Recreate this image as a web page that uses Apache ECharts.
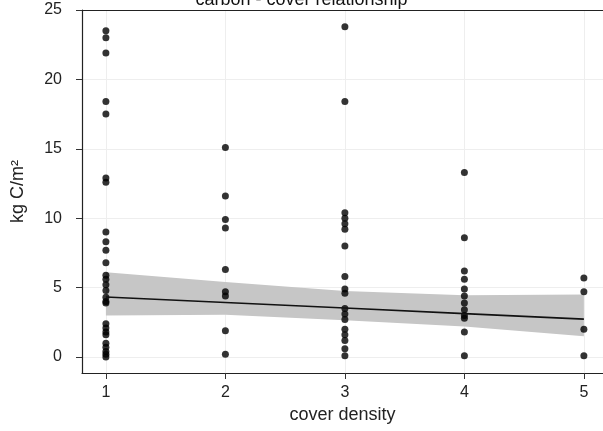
<!DOCTYPE html>
<html>
<head>
<meta charset="utf-8">
<script src="https://cdn.jsdelivr.net/npm/echarts@6/dist/echarts.min.js"></script>
<style>html,body{margin:0;padding:0;background:#fff}#c{width:603px;height:431px}</style>
</head>
<body>
<div id="c"></div>
<script>
var titleText = "carbon - cover relationship";
var xName = "cover density";
var yName = "kg C/m\u00B2";
var xTicks = [1, 2, 3, 4, 5];
var yTicks = [0, 5, 10, 15, 20, 25];

var cover1 = [23.5, 23.0, 21.9, 18.4, 17.5, 12.9, 12.6, 9.0, 8.3, 7.7, 6.8, 5.9, 5.6, 5.2, 4.8, 4.3, 4.0, 3.9, 2.4, 2.1, 1.8, 1.6, 1.0, 0.7, 0.4, 0.2, 0.0];
var cover2 = [15.1, 11.6, 9.9, 9.3, 6.3, 4.7, 4.4, 1.9, 0.2];
var cover3 = [23.8, 18.4, 10.4, 10.0, 9.6, 9.2, 8.0, 5.8, 4.9, 4.6, 3.5, 3.1, 2.7, 2.0, 1.6, 1.2, 0.6, 0.1];
var cover4 = [13.3, 8.6, 6.2, 5.6, 4.9, 4.4, 3.9, 3.4, 3.0, 2.8, 1.8, 0.1];
var cover5 = [5.7, 4.7, 2.0, 0.1];

var fitX = [1, 2, 3, 4, 5];
var fitY = [4.33, 3.93, 3.53, 3.13, 2.73];
var ciLow = [3.0, 3.05, 2.65, 2.2, 1.5];
var ciHigh = [6.1, 5.4, 4.75, 4.45, 4.5];

var groups = [cover1, cover2, cover3, cover4, cover5];
var pts = [];
groups.forEach(function (g, i) { g.forEach(function (v) { pts.push([xTicks[i], v]); }); });

var bandData = fitX.map(function (x, i) { return [x, ciLow[i], ciHigh[i]]; });

var chart = echarts.init(document.getElementById('c'), null, {renderer: 'canvas'});
var font = 'Liberation Sans, Arial, sans-serif';
chart.setOption({
  animation: false,
  backgroundColor: '#fff',
  title: {text: titleText, left: 'center', top: -14, textStyle: {fontFamily: font, fontSize: 18, fontWeight: 'normal', color: '#111'}},
  grid: {left: 82, right: 0, top: 10, bottom: 58},
  xAxis: [{
    type: 'value', min: 0.8, max: 5.16,
    name: xName, nameLocation: 'middle', nameGap: 30,
    nameTextStyle: {fontFamily: font, fontSize: 18, color: '#222'},
    axisLine: {show: true, onZero: false, lineStyle: {color: '#222', width: 1.2}},
    axisTick: {show: true, length: 6, customValues: xTicks, lineStyle: {color: '#333'}},
    axisLabel: {customValues: xTicks, margin: 12, fontFamily: font, fontSize: 16, color: '#222'},
    splitLine: {show: true, lineStyle: {color: '#eeeeee', width: 1}}
  }, {
    type: 'value', min: 0.8, max: 5.16, position: 'top',
    axisLine: {show: true, onZero: false, lineStyle: {color: '#222', width: 1.2}},
    axisTick: {show: false}, axisLabel: {show: false}, splitLine: {show: false}
  }],
  yAxis: {
    type: 'value', min: -1.15, max: 25,
    name: yName, nameLocation: 'middle', nameGap: 55, nameRotate: 90,
    nameTextStyle: {fontFamily: font, fontSize: 18, color: '#222'},
    axisLine: {show: true, onZero: false, lineStyle: {color: '#222', width: 1.2}},
    axisTick: {show: true, length: 6, customValues: yTicks, lineStyle: {color: '#333'}},
    axisLabel: {customValues: yTicks, margin: 20, fontFamily: font, fontSize: 16, color: '#222'},
    splitLine: {show: true, lineStyle: {color: '#eeeeee', width: 1}}
  },
  series: [
    {
      type: 'custom', data: bandData, z: 1, silent: true,
      renderItem: function (params, api) {
        if (params.dataIndex !== 0) return;
        var upper = bandData.map(function (d) { return api.coord([d[0], d[2]]); });
        var lower = bandData.map(function (d) { return api.coord([d[0], d[1]]); }).reverse();
        return {type: 'polygon', shape: {points: upper.concat(lower)}, style: {fill: '#c6c6c6'}};
      }
    },
    {type: 'scatter', data: pts, symbol: 'circle', symbolSize: 7, itemStyle: {color: '#000'}, z: 3},
    {type: 'line', data: fitX.map(function (x, i) { return [x, fitY[i]]; }), symbol: 'none', lineStyle: {color: '#111', width: 1.6}, z: 4}
  ]
});
</script>
</body>
</html>
